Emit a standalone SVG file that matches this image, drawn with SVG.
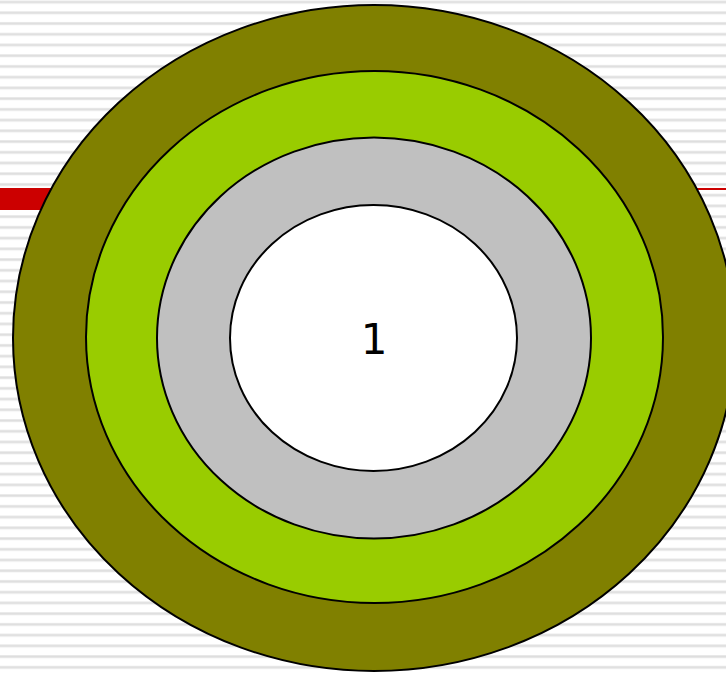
<svg xmlns="http://www.w3.org/2000/svg" width="726" height="673" viewBox="0 0 726 673">
  <style>
    .ring { stroke: #000000; stroke-width: 2; }
    .label { font-family: "DejaVu Sans", Verdana, sans-serif; font-size: 42px; fill: #000000; text-anchor: middle; }
  </style>
  <defs>
    <pattern id="stripes" x="0" y="0.5" width="726" height="10.73" patternUnits="userSpaceOnUse">
      <rect x="0" y="0" width="726" height="3.2" fill="#ebebeb"/>
      <rect x="0" y="0.8" width="726" height="1.6" fill="#dedede"/>
    </pattern>
  </defs>
  <rect x="0" y="0" width="726" height="673" fill="#ffffff"/>
  <rect x="0" y="0" width="726" height="673" fill="url(#stripes)"/>
  <g id="titlebar">
    <rect x="0" y="188" width="200" height="22" fill="#cc0000"/>
    <rect x="200" y="188" width="526" height="2" fill="#cc0000"/>
  </g>
  <g id="ring4">
    <ellipse class="ring" cx="374" cy="338" rx="361" ry="333" fill="#808000"/>
  </g>
  <g id="ring3">
    <ellipse class="ring" cx="374.5" cy="337" rx="288.5" ry="266" fill="#99cc00"/>
  </g>
  <g id="ring2">
    <ellipse class="ring" cx="374" cy="338" rx="217" ry="200.5" fill="#c0c0c0"/>
  </g>
  <g id="ring1">
    <ellipse class="ring" cx="373.5" cy="338" rx="143.5" ry="133" fill="#ffffff"/>
    <text class="label" x="374" y="354">1</text>
  </g>
</svg>
